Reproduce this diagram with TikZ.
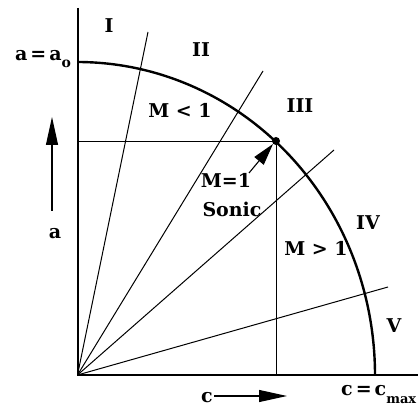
\documentclass[tikz,border=0pt]{standalone}
\usepackage{fontspec}
\setmainfont{DejaVu Serif}
\usetikzlibrary{arrows.meta}
\newcommand{\eqsp}{\hspace{3pt}=\hspace{3pt}}
\begin{document}
\begin{tikzpicture}[x=1pt,y=-1pt,
  axis/.style={line width=2pt},
  curve/.style={line width=2.4pt},
  ray/.style={line width=1pt},
  guide/.style={line width=0.9pt},
  bigarrow/.style={line width=1.1pt,-{Triangle[length=28pt,width=12pt]}},
  smallarrow/.style={line width=1.1pt,-{Triangle[length=22pt,width=12pt]}},
  lbl/.style={inner sep=0pt,anchor=base,font=\fontsize{19}{22}\selectfont\bfseries},
  lblw/.style={inner sep=0pt,anchor=base west,font=\fontsize{19}{22}\selectfont\bfseries}]
\useasboundingbox (0,0) rectangle (418,406);
% key points
\coordinate (O) at (77.5,375);
\coordinate (Ytop) at (77.5,8);
\coordinate (Xend) at (418,375);
\coordinate (R1) at (148,32);
\coordinate (R2) at (263,71);
\coordinate (R3) at (334,150);
\coordinate (R4) at (388,287);
\coordinate (Hl) at (77.5,141);
\coordinate (Vb) at (276,375);
% rays
\draw[ray] (O) -- (R1);
\draw[ray] (O) -- (R2);
\draw[ray] (O) -- (R3);
\draw[ray] (O) -- (R4);
% sonic guides
\node[circle,fill=black,inner sep=0pt,minimum size=8pt] (S) at (276,141) {};
\draw[guide] (Hl) -- (S.center);
\draw[guide] (S.center) -- (Vb);
% ellipse
\draw[curve] plot[domain=0:90,samples=90] ({77.5+297.5*cos(\x)},{375-313*sin(\x)});
% axes
\draw[axis] (Ytop) -- (O) -- (Xend);
% labels
\node[lbl] (tI) at (109,33) {I};
\node[lbl] (tII) at (201,57) {II};
\node[lbl] (tIII) at (300,113) {III};
\node[lbl] (tIV) at (368,230) {IV};
\node[lbl] (tV) at (394,332) {V};
\node[lbl] (tMl) at (180,118) {M < 1};
\node[lbl] (tMg) at (316,256) {M > 1};
\node[lbl] (tM1) at (226,188) {M=1};
\node[lbl] (tSonic) at (232,217) {Sonic};
\node[lblw] (tao) at (15,61) {a\eqsp a\raisebox{-7pt}{\fontsize{14}{14}\selectfont o}};
\node[lblw] (tcm) at (341,395) {c\eqsp c\raisebox{-9pt}{\fontsize{13}{13}\selectfont max}};
\node[lbl] (ta) at (55,239) {a};
\node[lbl] (tc) at (207,402) {c};
% arrows
\coordinate (a1) at (52,211);
\coordinate (a2) at (52,117);
\draw[bigarrow] (a1) -- (a2);
\coordinate (c1) at (214,396);
\coordinate (c2) at (287,396);
\draw[bigarrow] (c1) -- (c2);
\coordinate (s1) at (249,173);
\draw[smallarrow] (s1) -- (S.south west);
\end{tikzpicture}
\end{document}
